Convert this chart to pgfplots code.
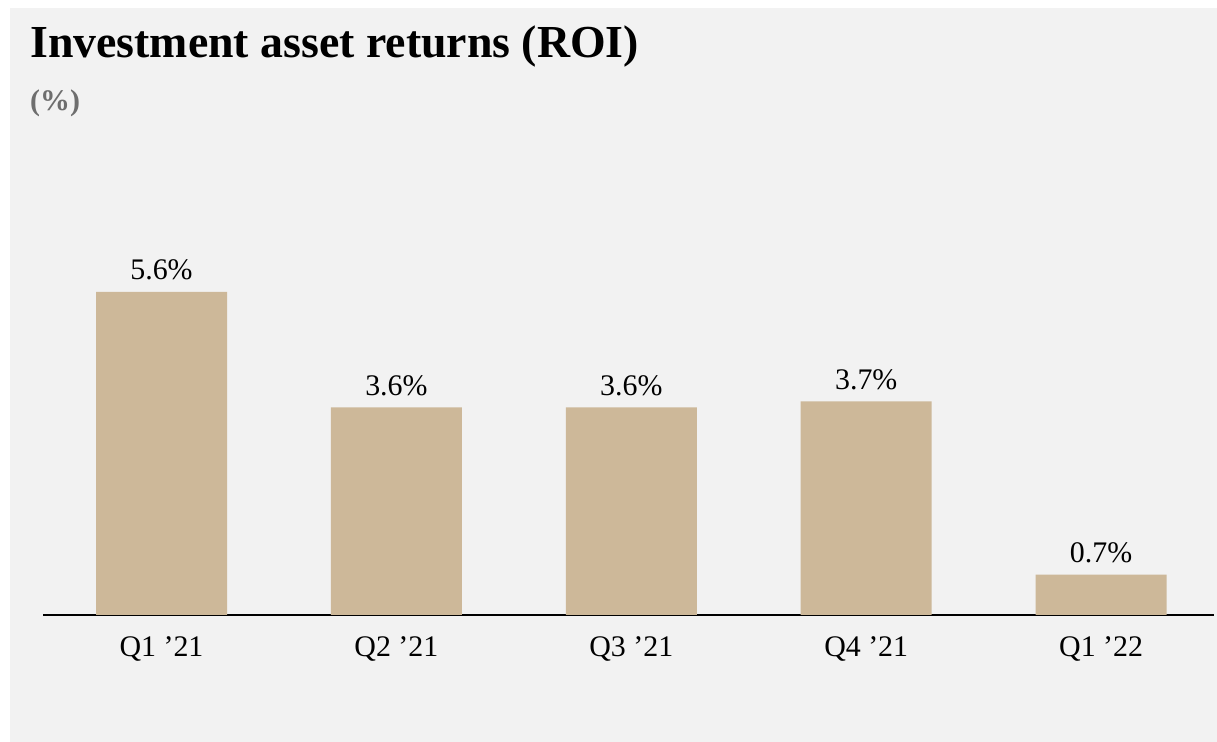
\documentclass[border=0pt]{standalone}
\usepackage{fontspec}
\setmainfont{Liberation Serif}
\usepackage{pgfplots}
\pgfplotsset{compat=1.18}
\definecolor{bg}{HTML}{F2F2F2}
\definecolor{barc}{HTML}{CDB899}
\definecolor{sub}{HTML}{6E6E6E}
\begin{document}
\begin{tikzpicture}[x=1bp,y=1bp]
\useasboundingbox (0,0) rectangle (1217,742);
\fill[white] (0,0) rectangle (1217,742);
\fill[bg] (10,0) rectangle (1217,734);
\node[anchor=base west,inner sep=0pt,font=\fontsize{46}{50}\selectfont\bfseries] at (30,684) {Investment asset returns (ROI)};
\node[anchor=base west,inner sep=0pt,font=\fontsize{30}{34}\selectfont\bfseries,text=sub] at (30,631) {(\%)};
\begin{axis}[
  at={(161.5bp,127bp)}, anchor=origin,
  x=234.9bp, y=57.7bp,
  xmin=-0.504, xmax=4.48, ymin=0, ymax=8,
  axis y line=none,
  axis x line*=bottom,
  x axis line style={line width=1.6bp, black},
  xtick={0,1,2,3,4},
  xticklabels={Q1 ’21, Q2 ’21, Q3 ’21, Q4 ’21, Q1 ’22},
  major tick length=0pt,
  xticklabel style={anchor=base, yshift=-42bp, inner sep=0pt, font=\fontsize{30}{34}\selectfont},
  clip=false,
  ybar, bar width=131bp,
  point meta=explicit symbolic,
  nodes near coords={\pgfplotspointmeta\%},
  every node near coord/.append style={anchor=base, yshift=12bp, inner sep=0pt, font=\fontsize{30}{34}\selectfont, text=black},
]
\addplot[fill=barc, draw=none] coordinates {(0,5.6) [5.6] (1,3.6) [3.6] (2,3.6) [3.6] (3,3.7) [3.7] (4,0.7) [0.7]};
\end{axis}
\end{tikzpicture}
\end{document}
